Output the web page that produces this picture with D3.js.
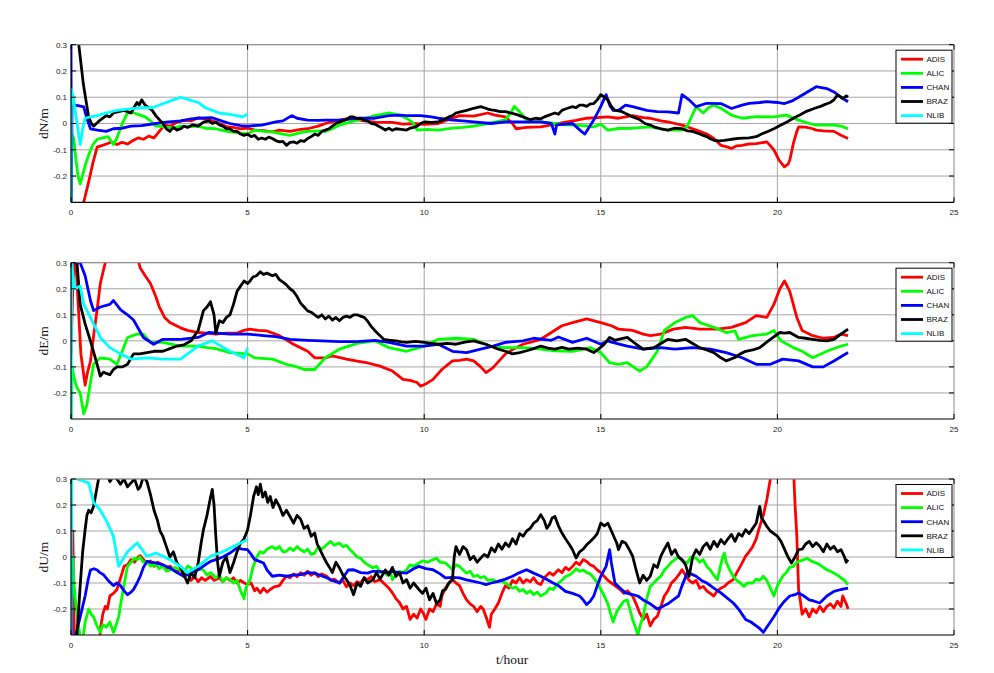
<!DOCTYPE html>
<html>
<head>
<meta charset="utf-8">
<script src="https://cdn.jsdelivr.net/npm/d3@7"></script>
<style>
  html, body { margin: 0; padding: 0; background: #fff; }
  svg { display: block; }
</style>
</head>
<body>
<svg id="chart" width="994" height="673"></svg>
<script>
// Station names and colours (legend order = drawing order)
const stations = ["ADIS", "ALIC", "CHAN", "BRAZ", "NLIB"];
const stationColors = ["#ff0000", "#00ff00", "#0000ff", "#000000", "#00ffff"];

// Axis ticks
const xTicks = [0, 5, 10, 15, 20, 25];
const yTicks = [-0.2, -0.1, 0, 0.1, 0.2, 0.3];
const yTickLabels = ["-0.2", "-0.1", "0", "0.1", "0.2", "0.3"];
const panelTitles = ["dN/m", "dE/m", "dU/m"];

// ---- North component: [t (hour), error (m)] ----
const dN_ADIS = [[0,-0.4],[0.3,-0.35],[0.36,-0.3],[0.45,-0.25],[0.53,-0.205],[0.62,-0.15],[0.74,-0.09],[0.85,-0.085],[1.0,-0.078],[1.15,-0.07],[1.3,-0.08],[1.45,-0.072],[1.6,-0.078],[1.75,-0.065],[1.9,-0.055],[2.05,-0.06],[2.2,-0.048],[2.35,-0.055],[2.5,-0.03],[2.65,-0.005],[2.8,-0.01],[3.0,0.005],[3.2,0.012],[3.4,0.01],[3.6,0.022],[3.8,0.018],[4.0,0.01],[4.2,0.0],[4.4,-0.012],[4.6,-0.015],[4.8,-0.02],[5.0,-0.018],[5.2,-0.025],[5.45,-0.027],[5.7,-0.032],[5.9,-0.025],[6.2,-0.03],[6.5,-0.022],[6.7,-0.02],[7.0,-0.01],[7.2,0.0],[7.5,0.01],[7.9,0.02],[8.2,0.012],[8.6,0.005],[9.1,0.004],[9.4,-0.002],[9.7,0.0],[10.0,-0.003],[10.4,0.0],[10.7,0.015],[11.0,0.03],[11.4,0.028],[11.8,0.04],[12.0,0.032],[12.3,0.025],[12.5,0.0],[12.6,-0.02],[12.9,-0.015],[13.3,-0.013],[13.6,-0.005],[14.0,0.005],[14.3,0.012],[14.6,0.02],[14.9,0.022],[15.2,0.025],[15.5,0.02],[15.9,0.03],[16.2,0.022],[16.4,0.02],[16.7,0.01],[16.9,0.006],[17.1,0.0],[17.3,-0.006],[17.5,-0.015],[17.8,-0.03],[18.0,-0.04],[18.2,-0.057],[18.4,-0.083],[18.6,-0.09],[18.7,-0.095],[18.85,-0.085],[19.0,-0.083],[19.2,-0.078],[19.4,-0.077],[19.7,-0.07],[19.9,-0.1],[20.05,-0.14],[20.2,-0.165],[20.3,-0.155],[20.35,-0.14],[20.45,-0.077],[20.55,-0.03],[20.6,-0.013],[20.8,-0.014],[21.0,-0.02],[21.1,-0.025],[21.3,-0.028],[21.6,-0.03],[21.8,-0.045],[22.0,-0.057]];
const dN_ALIC = [[0,-0.03],[0.08,-0.06],[0.15,-0.15],[0.2,-0.2],[0.26,-0.23],[0.32,-0.2],[0.4,-0.16],[0.5,-0.12],[0.62,-0.08],[0.74,-0.06],[0.9,-0.055],[1.05,-0.05],[1.2,-0.08],[1.3,-0.055],[1.45,0.0],[1.6,0.04],[1.75,0.042],[1.9,0.035],[2.1,0.025],[2.25,0.01],[2.4,-0.01],[2.6,-0.012],[2.9,-0.018],[3.1,-0.01],[3.4,-0.012],[3.6,-0.01],[3.8,-0.018],[4.1,-0.02],[4.4,-0.03],[4.7,-0.035],[5.0,-0.04],[5.2,-0.025],[5.45,-0.03],[5.7,-0.032],[6.0,-0.04],[6.2,-0.045],[6.5,-0.035],[6.7,-0.03],[7.0,-0.028],[7.2,-0.03],[7.4,-0.02],[7.6,-0.006],[7.9,0.005],[8.1,0.013],[8.4,0.022],[8.6,0.03],[8.8,0.035],[9.0,0.04],[9.3,0.032],[9.5,0.02],[9.7,0.0],[9.8,-0.025],[10.1,-0.022],[10.4,-0.025],[10.8,-0.018],[11.1,-0.015],[11.4,-0.01],[11.8,0.0],[12.1,0.008],[12.3,0.015],[12.45,0.04],[12.55,0.065],[12.7,0.045],[12.85,0.02],[13.0,0.008],[13.3,0.006],[13.7,0.0],[14.0,-0.005],[14.2,-0.006],[14.5,-0.008],[14.8,-0.013],[15.0,-0.003],[15.2,-0.025],[15.5,-0.019],[15.9,-0.018],[16.4,-0.013],[16.9,-0.025],[17.3,-0.025],[17.45,-0.01],[17.55,0.02],[17.7,0.064],[17.9,0.04],[18.05,0.06],[18.2,0.07],[18.4,0.058],[18.7,0.032],[19.0,0.02],[19.4,0.026],[19.9,0.025],[20.25,0.032],[20.6,0.013],[20.9,0.0],[21.1,-0.006],[21.4,-0.005],[21.6,-0.006],[21.8,-0.01],[22.0,-0.02]];
const dN_CHAN = [[0,0.35],[0.01,-0.35],[0.03,0.1],[0.08,0.07],[0.2,0.068],[0.36,0.063],[0.45,0.02],[0.55,-0.02],[0.75,-0.025],[1.0,-0.03],[1.2,-0.02],[1.45,-0.018],[1.7,-0.01],[2.0,-0.008],[2.4,0.0],[2.7,0.005],[3.1,0.01],[3.4,0.018],[3.6,0.02],[4.0,0.022],[4.3,0.008],[4.5,0.0],[4.8,-0.008],[5.0,-0.01],[5.4,-0.006],[5.8,0.006],[6.0,0.01],[6.25,0.03],[6.4,0.02],[6.7,0.013],[7.0,0.012],[7.2,0.013],[7.6,0.013],[8.1,0.02],[8.6,0.02],[9.0,0.03],[9.3,0.032],[9.5,0.03],[9.9,0.03],[10.2,0.025],[10.4,0.02],[10.8,0.013],[11.1,0.01],[11.4,0.006],[11.9,0.0],[12.3,0.006],[12.8,0.006],[13.3,0.006],[13.6,0.0],[13.7,-0.04],[13.75,-0.005],[14.2,0.0],[14.45,-0.03],[14.55,-0.04],[14.8,0.013],[15.0,0.065],[15.15,0.11],[15.25,0.07],[15.35,0.05],[15.5,0.05],[15.7,0.07],[15.9,0.064],[16.3,0.05],[16.6,0.045],[16.9,0.044],[17.2,0.04],[17.3,0.11],[17.5,0.09],[17.7,0.064],[18.0,0.077],[18.4,0.076],[18.7,0.057],[19.0,0.07],[19.2,0.077],[19.5,0.08],[19.7,0.083],[20.0,0.08],[20.2,0.076],[20.4,0.085],[20.6,0.1],[20.85,0.12],[21.1,0.14],[21.4,0.133],[21.6,0.12],[21.8,0.1],[22.0,0.083]];
const dN_BRAZ = [[0.0,0.4],[0.22,0.3],[0.35,0.15],[0.5,0.024],[0.58,0.0],[0.64,-0.01],[0.72,0.0],[0.8,0.01],[0.9,0.02],[1.0,0.03],[1.1,0.025],[1.2,0.04],[1.35,0.045],[1.5,0.05],[1.6,0.045],[1.7,0.04],[1.78,0.06],[1.87,0.08],[1.93,0.07],[2.0,0.09],[2.05,0.08],[2.1,0.07],[2.2,0.06],[2.3,0.05],[2.4,0.03],[2.5,0.015],[2.6,0.0],[2.7,-0.02],[2.8,-0.03],[2.9,-0.015],[3.0,-0.025],[3.1,-0.02],[3.2,-0.01],[3.3,-0.015],[3.45,-0.005],[3.6,-0.01],[3.75,0.005],[3.9,0.01],[4.0,0.0],[4.1,0.005],[4.2,-0.005],[4.3,-0.01],[4.4,-0.02],[4.5,-0.02],[4.6,-0.03],[4.7,-0.03],[4.8,-0.04],[4.9,-0.045],[5.0,-0.04],[5.1,-0.05],[5.2,-0.045],[5.3,-0.06],[5.4,-0.055],[5.5,-0.06],[5.6,-0.052],[5.7,-0.057],[5.8,-0.065],[5.9,-0.07],[6.0,-0.068],[6.1,-0.083],[6.2,-0.072],[6.3,-0.07],[6.4,-0.075],[6.5,-0.065],[6.6,-0.068],[6.7,-0.057],[6.8,-0.05],[6.9,-0.04],[7.0,-0.045],[7.1,-0.03],[7.2,-0.025],[7.3,-0.02],[7.4,-0.01],[7.5,0.0],[7.6,0.006],[7.7,0.01],[7.8,0.015],[7.9,0.025],[8.0,0.025],[8.1,0.018],[8.2,0.02],[8.3,0.012],[8.4,0.01],[8.5,0.0],[8.6,-0.002],[8.75,-0.013],[8.9,-0.025],[9.0,-0.018],[9.1,-0.026],[9.2,-0.02],[9.35,-0.022],[9.5,-0.025],[9.6,-0.018],[9.7,-0.015],[9.8,-0.01],[9.9,0.0],[10.0,0.006],[10.2,0.004],[10.4,0.006],[10.55,0.015],[10.7,0.025],[10.8,0.03],[10.9,0.04],[11.05,0.045],[11.2,0.05],[11.4,0.058],[11.6,0.064],[11.7,0.06],[11.8,0.055],[11.9,0.052],[12.0,0.05],[12.15,0.045],[12.3,0.045],[12.45,0.04],[12.6,0.035],[12.7,0.03],[12.8,0.025],[12.9,0.02],[13.0,0.015],[13.15,0.02],[13.3,0.018],[13.4,0.025],[13.5,0.03],[13.6,0.035],[13.7,0.04],[13.8,0.035],[13.9,0.05],[14.0,0.055],[14.1,0.06],[14.2,0.064],[14.3,0.06],[14.4,0.07],[14.5,0.07],[14.6,0.065],[14.7,0.075],[14.8,0.076],[14.9,0.09],[15.0,0.11],[15.1,0.1],[15.2,0.09],[15.3,0.065],[15.4,0.05],[15.5,0.048],[15.6,0.045],[15.75,0.035],[15.9,0.025],[16.0,0.02],[16.1,0.015],[16.25,0.0],[16.4,-0.006],[16.55,-0.015],[16.7,-0.02],[16.9,-0.025],[17.1,-0.018],[17.3,-0.02],[17.45,-0.028],[17.6,-0.03],[17.7,-0.035],[17.8,-0.04],[17.9,-0.045],[18.0,-0.05],[18.1,-0.058],[18.2,-0.064],[18.35,-0.066],[18.5,-0.064],[18.7,-0.06],[18.9,-0.057],[19.05,-0.056],[19.2,-0.055],[19.4,-0.05],[19.55,-0.04],[19.7,-0.032],[19.9,-0.02],[20.1,-0.006],[20.3,0.008],[20.45,0.02],[20.6,0.03],[20.8,0.045],[20.9,0.05],[21.0,0.055],[21.1,0.06],[21.2,0.064],[21.3,0.07],[21.4,0.075],[21.5,0.08],[21.6,0.09],[21.7,0.108],[21.8,0.1],[21.85,0.095],[21.95,0.105],[22.0,0.1]];
const dN_NLIB = [[0,-0.35],[0.01,0.13],[0.06,0.1],[0.15,0.02],[0.26,-0.08],[0.33,-0.02],[0.4,0.02],[0.55,0.025],[0.74,0.03],[1.0,0.04],[1.3,0.05],[1.6,0.055],[2.0,0.06],[2.3,0.06],[2.6,0.075],[2.9,0.09],[3.1,0.1],[3.35,0.09],[3.6,0.08],[3.8,0.06],[4.0,0.05],[4.2,0.04],[4.5,0.035],[4.7,0.03],[4.85,0.025],[5.0,0.035]];

// ---- East component ----
const dE_ADIS = [[0,-0.05],[0.05,0.2],[0.12,0.35],[0.2,0.15],[0.28,-0.05],[0.4,-0.17],[0.47,-0.12],[0.55,-0.08],[0.65,0.03],[0.74,0.12],[0.83,0.22],[0.97,0.3],[1.1,0.36],[1.8,0.36],[1.96,0.28],[2.1,0.25],[2.25,0.22],[2.4,0.17],[2.5,0.13],[2.65,0.09],[2.8,0.07],[3.1,0.05],[3.3,0.04],[3.6,0.032],[3.85,0.03],[4.1,0.026],[4.4,0.03],[4.7,0.03],[4.9,0.04],[5.07,0.045],[5.3,0.04],[5.55,0.038],[5.9,0.02],[6.3,-0.013],[6.7,-0.04],[6.9,-0.065],[7.2,-0.065],[7.4,-0.058],[7.8,-0.07],[8.1,-0.078],[8.4,-0.085],[8.75,-0.097],[9.1,-0.116],[9.4,-0.148],[9.6,-0.152],[9.8,-0.16],[9.9,-0.174],[10.05,-0.165],[10.25,-0.148],[10.5,-0.11],[10.8,-0.077],[11.0,-0.075],[11.2,-0.07],[11.4,-0.077],[11.6,-0.1],[11.75,-0.122],[11.95,-0.103],[12.3,-0.05],[12.55,-0.03],[12.8,-0.013],[13.3,0.006],[13.6,0.032],[13.9,0.058],[14.2,0.07],[14.6,0.084],[15.0,0.07],[15.3,0.058],[15.5,0.045],[15.9,0.04],[16.2,0.026],[16.4,0.02],[16.7,0.026],[17.05,0.045],[17.4,0.052],[17.8,0.045],[18.3,0.045],[18.7,0.052],[19.1,0.07],[19.4,0.097],[19.7,0.09],[19.9,0.14],[20.07,0.2],[20.2,0.23],[20.35,0.19],[20.55,0.09],[20.7,0.04],[21.0,0.02],[21.3,0.01],[21.6,0.013],[21.8,0.026],[22.0,0.02]];
const dE_ALIC = [[0,-0.35],[0.03,-0.1],[0.1,-0.15],[0.17,-0.18],[0.26,-0.2],[0.36,-0.28],[0.45,-0.245],[0.55,-0.16],[0.64,-0.09],[0.83,-0.065],[1.1,-0.07],[1.3,-0.09],[1.45,-0.04],[1.6,0.013],[1.87,0.026],[2.05,0.026],[2.25,-0.006],[2.6,-0.006],[3.1,-0.02],[3.6,-0.02],[3.85,-0.026],[4.1,-0.03],[4.5,-0.045],[5.0,-0.05],[5.2,-0.065],[5.7,-0.07],[6.1,-0.09],[6.4,-0.1],[6.6,-0.11],[6.9,-0.11],[7.2,-0.065],[7.6,-0.032],[8.1,-0.01],[8.6,0.0],[9.0,-0.026],[9.5,-0.04],[10.0,-0.02],[10.4,0.006],[10.9,0.01],[11.4,0.006],[11.85,-0.02],[12.3,-0.026],[12.8,-0.026],[13.3,-0.032],[13.7,-0.038],[14.2,-0.04],[14.7,-0.026],[15.0,-0.045],[15.25,-0.084],[15.5,-0.09],[15.75,-0.084],[16.1,-0.116],[16.3,-0.1],[16.6,-0.04],[16.8,0.04],[17.1,0.07],[17.4,0.09],[17.6,0.097],[17.8,0.07],[18.2,0.052],[18.55,0.032],[18.8,0.038],[18.9,0.006],[19.3,0.02],[19.7,0.026],[19.9,0.04],[20.1,0.0],[20.45,-0.026],[20.7,-0.04],[21.0,-0.065],[21.4,-0.04],[21.8,-0.02],[22.0,-0.013]];
const dE_CHAN = [[0,0.35],[0.08,0.3],[0.26,0.3],[0.4,0.25],[0.55,0.155],[0.64,0.116],[0.83,0.13],[1.1,0.14],[1.2,0.155],[1.4,0.12],[1.6,0.1],[1.77,0.08],[2.05,0.013],[2.34,-0.013],[2.6,0.006],[3.1,0.006],[3.6,0.013],[3.9,0.032],[4.5,0.026],[5.0,0.026],[5.45,0.02],[5.8,0.016],[6.2,0.006],[6.7,0.002],[7.1,0.0],[7.6,-0.003],[8.1,-0.003],[8.6,0.002],[9.0,-0.006],[9.5,-0.02],[10.0,-0.02],[10.4,-0.013],[10.8,-0.04],[11.2,-0.045],[11.6,-0.032],[11.95,-0.02],[12.3,-0.006],[12.8,0.0],[13.1,0.01],[13.6,0.002],[13.8,0.015],[14.2,-0.006],[14.6,0.01],[15.0,-0.013],[15.2,0.0],[15.3,-0.005],[15.75,-0.02],[16.2,-0.032],[16.7,-0.026],[17.1,-0.032],[17.6,-0.026],[18.1,-0.032],[18.55,-0.045],[19.0,-0.065],[19.4,-0.09],[19.8,-0.09],[20.15,-0.07],[20.6,-0.077],[21.0,-0.1],[21.3,-0.1],[21.6,-0.077],[22.0,-0.045]];
const dE_BRAZ = [[0,0.35],[0.17,0.3],[0.26,0.14],[0.4,0.065],[0.55,0.0],[0.74,-0.09],[0.83,-0.135],[0.92,-0.12],[1.0,-0.125],[1.1,-0.13],[1.2,-0.11],[1.3,-0.1],[1.45,-0.1],[1.6,-0.09],[1.77,-0.05],[1.95,-0.05],[2.15,-0.045],[2.35,-0.04],[2.6,-0.04],[2.8,-0.03],[3.0,-0.02],[3.2,-0.015],[3.4,0.0],[3.5,0.02],[3.6,0.04],[3.75,0.116],[3.85,0.13],[3.95,0.15],[4.05,0.1],[4.1,0.03],[4.2,0.077],[4.3,0.07],[4.4,0.09],[4.5,0.1],[4.6,0.14],[4.7,0.19],[4.8,0.21],[4.9,0.23],[5.0,0.22],[5.07,0.23],[5.15,0.245],[5.25,0.25],[5.36,0.265],[5.45,0.255],[5.55,0.26],[5.7,0.25],[5.8,0.255],[5.9,0.235],[6.0,0.225],[6.1,0.215],[6.2,0.2],[6.3,0.19],[6.4,0.17],[6.5,0.145],[6.6,0.13],[6.7,0.115],[6.8,0.11],[6.9,0.1],[7.0,0.09],[7.1,0.1],[7.2,0.084],[7.3,0.095],[7.4,0.08],[7.5,0.09],[7.6,0.077],[7.7,0.09],[7.8,0.095],[7.9,0.09],[8.0,0.1],[8.1,0.1],[8.2,0.095],[8.3,0.09],[8.4,0.075],[8.5,0.055],[8.6,0.04],[8.75,0.02],[8.85,0.006],[9.0,0.003],[9.2,0.0],[9.35,-0.004],[9.5,-0.006],[9.75,-0.002],[10.0,-0.006],[10.2,-0.01],[10.4,-0.013],[10.65,-0.01],[10.9,-0.013],[11.15,-0.005],[11.4,0.0],[11.6,-0.008],[11.75,-0.013],[12.1,-0.032],[12.3,-0.04],[12.5,-0.05],[12.7,-0.045],[12.9,-0.038],[13.1,-0.03],[13.3,-0.02],[13.5,-0.028],[13.7,-0.032],[13.9,-0.025],[14.1,-0.032],[14.35,-0.028],[14.6,-0.032],[14.8,-0.045],[14.95,-0.03],[15.1,-0.013],[15.25,0.013],[15.4,0.002],[15.5,0.006],[15.75,0.013],[16.0,-0.013],[16.2,-0.032],[16.5,-0.026],[16.7,-0.01],[16.9,0.006],[17.15,0.0],[17.4,0.006],[17.6,-0.01],[17.8,-0.026],[18.0,-0.035],[18.2,-0.045],[18.4,-0.065],[18.55,-0.077],[18.8,-0.064],[18.95,-0.05],[19.1,-0.04],[19.3,-0.035],[19.5,-0.026],[19.65,-0.01],[19.8,0.006],[20.07,0.032],[20.2,0.03],[20.35,0.032],[20.6,0.013],[20.8,0.01],[21.0,0.006],[21.2,0.002],[21.4,0.0],[21.6,0.006],[21.8,0.026],[22.0,0.045]];
const dE_NLIB = [[0,-0.35],[0.02,0.3],[0.1,0.2],[0.26,0.21],[0.36,0.14],[0.55,0.09],[0.83,0.013],[1.1,-0.026],[1.4,-0.05],[1.7,-0.07],[2.15,-0.065],[2.6,-0.07],[3.1,-0.07],[3.6,-0.02],[4.0,0.0],[4.5,-0.04],[4.9,-0.065],[5.0,-0.026]];

// ---- Up component ----
const dU_ADIS = [[0,-0.35],[0.05,0.1],[0.1,-0.35],[0.8,-0.35],[0.83,-0.28],[0.9,-0.22],[0.97,-0.19],[1.03,-0.2],[1.1,-0.15],[1.2,-0.14],[1.3,-0.125],[1.38,-0.09],[1.45,-0.06],[1.5,-0.036],[1.6,-0.03],[1.7,-0.01],[1.8,-0.02],[1.9,0.0],[1.96,0.005],[2.05,-0.01],[2.15,-0.023],[2.25,-0.015],[2.35,-0.036],[2.45,-0.02],[2.6,-0.03],[2.7,-0.045],[2.8,-0.035],[2.95,-0.055],[3.1,-0.05],[3.2,-0.07],[3.3,-0.06],[3.4,-0.09],[3.5,-0.075],[3.6,-0.095],[3.7,-0.08],[3.8,-0.09],[3.95,-0.075],[4.05,-0.09],[4.2,-0.08],[4.3,-0.095],[4.4,-0.08],[4.5,-0.09],[4.6,-0.08],[4.7,-0.1],[4.8,-0.09],[4.9,-0.1],[5.0,-0.106],[5.1,-0.1],[5.2,-0.13],[5.26,-0.12],[5.36,-0.138],[5.45,-0.12],[5.55,-0.135],[5.64,-0.125],[5.75,-0.115],[5.9,-0.11],[6.0,-0.09],[6.1,-0.074],[6.2,-0.08],[6.3,-0.065],[6.4,-0.075],[6.5,-0.06],[6.6,-0.07],[6.7,-0.055],[6.8,-0.07],[6.9,-0.06],[7.0,-0.075],[7.1,-0.065],[7.24,-0.074],[7.35,-0.09],[7.45,-0.085],[7.6,-0.1],[7.7,-0.09],[7.8,-0.115],[7.9,-0.1],[8.0,-0.11],[8.1,-0.095],[8.2,-0.1],[8.3,-0.08],[8.4,-0.087],[8.5,-0.075],[8.6,-0.095],[8.75,-0.087],[8.85,-0.1],[9.0,-0.12],[9.1,-0.138],[9.2,-0.16],[9.3,-0.175],[9.4,-0.2],[9.5,-0.19],[9.6,-0.24],[9.7,-0.22],[9.8,-0.235],[9.9,-0.2],[9.97,-0.215],[10.05,-0.24],[10.15,-0.2],[10.25,-0.21],[10.35,-0.18],[10.45,-0.19],[10.5,-0.15],[10.6,-0.12],[10.7,-0.1],[10.8,-0.087],[10.9,-0.1],[11.0,-0.11],[11.1,-0.14],[11.2,-0.165],[11.3,-0.18],[11.4,-0.19],[11.5,-0.21],[11.6,-0.19],[11.67,-0.2],[11.75,-0.23],[11.85,-0.27],[11.9,-0.22],[12.0,-0.2],[12.1,-0.177],[12.2,-0.14],[12.3,-0.11],[12.4,-0.12],[12.5,-0.09],[12.6,-0.1],[12.7,-0.08],[12.8,-0.1],[12.9,-0.087],[13.0,-0.095],[13.1,-0.08],[13.2,-0.1],[13.3,-0.106],[13.4,-0.08],[13.55,-0.06],[13.65,-0.07],[13.8,-0.049],[13.9,-0.06],[14.0,-0.04],[14.1,-0.05],[14.2,-0.036],[14.3,-0.02],[14.4,-0.03],[14.5,-0.01],[14.6,-0.017],[14.7,-0.03],[14.8,-0.036],[14.9,-0.05],[15.0,-0.06],[15.1,-0.075],[15.2,-0.09],[15.3,-0.1],[15.4,-0.11],[15.55,-0.125],[15.65,-0.14],[15.75,-0.13],[15.9,-0.15],[16.0,-0.18],[16.1,-0.215],[16.2,-0.24],[16.3,-0.22],[16.4,-0.265],[16.5,-0.24],[16.6,-0.228],[16.7,-0.19],[16.8,-0.15],[16.9,-0.13],[17.0,-0.1],[17.1,-0.087],[17.2,-0.07],[17.3,-0.049],[17.4,-0.07],[17.5,-0.09],[17.6,-0.1],[17.7,-0.09],[17.8,-0.12],[17.9,-0.113],[18.0,-0.13],[18.1,-0.14],[18.2,-0.15],[18.3,-0.13],[18.4,-0.12],[18.5,-0.113],[18.6,-0.1],[18.75,-0.087],[18.85,-0.06],[18.95,-0.036],[19.05,-0.01],[19.1,0.003],[19.2,0.02],[19.3,0.04],[19.4,0.07],[19.5,0.118],[19.6,0.16],[19.7,0.22],[19.8,0.3],[19.9,0.36],[20.45,0.36],[20.5,0.2],[20.55,0.08],[20.6,-0.125],[20.65,-0.17],[20.7,-0.22],[20.8,-0.2],[20.9,-0.23],[21.0,-0.2],[21.1,-0.215],[21.2,-0.19],[21.3,-0.21],[21.4,-0.19],[21.5,-0.18],[21.6,-0.196],[21.7,-0.17],[21.8,-0.19],[21.85,-0.15],[21.95,-0.18],[22.0,-0.2]];
const dU_ALIC = [[0,-0.35],[0.05,0.0],[0.08,-0.1],[0.15,-0.2],[0.3,-0.35],[0.4,-0.25],[0.5,-0.2],[0.57,-0.22],[0.64,-0.23],[0.72,-0.26],[0.83,-0.29],[0.9,-0.26],[1.0,-0.27],[1.1,-0.25],[1.2,-0.29],[1.28,-0.26],[1.35,-0.23],[1.42,-0.17],[1.5,-0.11],[1.55,-0.07],[1.6,-0.036],[1.7,-0.02],[1.8,-0.005],[1.87,-0.01],[1.95,0.0],[2.05,-0.02],[2.15,-0.017],[2.25,-0.035],[2.4,-0.03],[2.5,-0.045],[2.6,-0.035],[2.7,-0.055],[2.8,-0.05],[2.95,-0.04],[3.1,-0.05],[3.2,-0.06],[3.3,-0.035],[3.4,-0.042],[3.5,-0.06],[3.6,-0.045],[3.75,-0.05],[3.85,-0.07],[3.95,-0.06],[4.1,-0.08],[4.2,-0.07],[4.3,-0.095],[4.4,-0.08],[4.5,-0.087],[4.6,-0.1],[4.7,-0.09],[4.8,-0.13],[4.9,-0.16],[4.95,-0.12],[5.07,-0.087],[5.15,-0.04],[5.26,0.0],[5.35,0.02],[5.45,0.015],[5.55,0.03],[5.7,0.04],[5.8,0.03],[5.9,0.04],[6.0,0.02],[6.1,0.022],[6.2,0.035],[6.3,0.025],[6.4,0.04],[6.5,0.028],[6.6,0.02],[6.7,0.03],[6.8,0.01],[6.9,0.015],[7.0,0.04],[7.1,0.03],[7.24,0.047],[7.35,0.06],[7.45,0.045],[7.6,0.054],[7.7,0.04],[7.8,0.045],[7.9,0.028],[8.0,0.015],[8.1,0.0],[8.2,-0.004],[8.3,-0.02],[8.4,-0.03],[8.55,-0.042],[8.65,-0.035],[8.75,-0.06],[8.85,-0.055],[8.95,-0.07],[9.05,-0.06],[9.1,-0.087],[9.2,-0.07],[9.3,-0.055],[9.4,-0.06],[9.5,-0.049],[9.6,-0.03],[9.7,-0.035],[9.85,-0.023],[9.95,-0.015],[10.1,-0.02],[10.25,-0.01],[10.35,-0.005],[10.45,-0.02],[10.6,-0.023],[10.7,-0.035],[10.8,-0.049],[10.9,-0.03],[11.0,-0.036],[11.1,-0.05],[11.2,-0.062],[11.3,-0.055],[11.4,-0.075],[11.5,-0.07],[11.6,-0.08],[11.7,-0.075],[11.8,-0.09],[11.95,-0.087],[12.05,-0.095],[12.15,-0.09],[12.3,-0.1],[12.4,-0.11],[12.5,-0.12],[12.6,-0.115],[12.7,-0.132],[12.8,-0.125],[12.9,-0.14],[13.0,-0.13],[13.1,-0.145],[13.2,-0.135],[13.3,-0.15],[13.45,-0.138],[13.55,-0.12],[13.65,-0.125],[13.8,-0.1],[13.9,-0.09],[14.0,-0.075],[14.1,-0.07],[14.2,-0.06],[14.3,-0.045],[14.4,-0.055],[14.5,-0.05],[14.6,-0.06],[14.7,-0.065],[14.8,-0.08],[14.9,-0.1],[15.0,-0.125],[15.1,-0.15],[15.2,-0.18],[15.28,-0.22],[15.35,-0.25],[15.45,-0.21],[15.55,-0.19],[15.65,-0.17],[15.75,-0.165],[15.82,-0.2],[15.9,-0.24],[15.98,-0.27],[16.05,-0.3],[16.12,-0.26],[16.2,-0.228],[16.3,-0.16],[16.4,-0.113],[16.5,-0.1],[16.6,-0.085],[16.7,-0.074],[16.8,-0.05],[16.9,-0.036],[17.0,-0.02],[17.1,-0.01],[17.2,0.003],[17.3,-0.015],[17.45,-0.023],[17.55,0.0],[17.7,-0.004],[17.8,-0.02],[17.9,-0.01],[18.0,-0.036],[18.1,-0.05],[18.2,-0.07],[18.3,-0.087],[18.38,-0.04],[18.45,0.0],[18.5,0.015],[18.55,-0.02],[18.65,-0.05],[18.75,-0.074],[18.85,-0.09],[18.95,-0.1],[19.05,-0.113],[19.15,-0.1],[19.3,-0.1],[19.4,-0.085],[19.5,-0.09],[19.6,-0.074],[19.7,-0.09],[19.8,-0.12],[19.9,-0.15],[20.0,-0.11],[20.15,-0.074],[20.25,-0.06],[20.35,-0.04],[20.45,-0.036],[20.55,-0.02],[20.65,-0.015],[20.75,-0.01],[20.85,-0.005],[20.95,-0.015],[21.1,-0.023],[21.2,-0.03],[21.3,-0.04],[21.4,-0.049],[21.5,-0.055],[21.6,-0.062],[21.7,-0.07],[21.8,-0.08],[21.9,-0.09],[22.0,-0.106]];
const dU_CHAN = [[0,0.35],[0.02,-0.35],[0.17,-0.28],[0.26,-0.23],[0.4,-0.15],[0.48,-0.09],[0.55,-0.05],[0.65,-0.045],[0.74,-0.05],[0.82,-0.06],[0.92,-0.068],[1.05,-0.09],[1.2,-0.11],[1.3,-0.1],[1.4,-0.11],[1.5,-0.13],[1.6,-0.145],[1.7,-0.135],[1.77,-0.125],[1.87,-0.1],[1.96,-0.074],[2.05,-0.04],[2.15,-0.017],[2.25,-0.02],[2.4,-0.023],[2.6,-0.03],[2.8,-0.042],[3.0,-0.06],[3.2,-0.075],[3.4,-0.06],[3.6,-0.049],[3.8,-0.03],[3.95,-0.017],[4.1,-0.01],[4.3,0.0],[4.5,0.015],[4.7,0.035],[4.85,0.03],[5.0,0.028],[5.1,0.01],[5.2,-0.01],[5.3,-0.015],[5.45,-0.023],[5.55,-0.05],[5.7,-0.074],[5.9,-0.07],[6.1,-0.074],[6.3,-0.07],[6.5,-0.068],[6.7,-0.06],[6.9,-0.062],[7.05,-0.07],[7.24,-0.08],[7.4,-0.09],[7.6,-0.1],[7.75,-0.07],[7.85,-0.05],[8.0,-0.049],[8.2,-0.06],[8.4,-0.062],[8.55,-0.055],[8.75,-0.055],[8.9,-0.06],[9.1,-0.055],[9.3,-0.06],[9.5,-0.062],[9.7,-0.045],[9.85,-0.036],[10.05,-0.045],[10.25,-0.049],[10.45,-0.065],[10.6,-0.08],[10.8,-0.078],[11.0,-0.08],[11.2,-0.088],[11.4,-0.094],[11.6,-0.1],[11.75,-0.106],[11.9,-0.1],[12.1,-0.094],[12.3,-0.085],[12.5,-0.074],[12.7,-0.06],[12.9,-0.049],[13.1,-0.062],[13.3,-0.074],[13.45,-0.085],[13.65,-0.1],[13.8,-0.11],[14.0,-0.132],[14.2,-0.14],[14.4,-0.15],[14.5,-0.165],[14.6,-0.183],[14.7,-0.17],[14.8,-0.15],[14.9,-0.11],[15.0,-0.074],[15.15,-0.036],[15.25,0.028],[15.3,-0.023],[15.4,-0.1],[15.55,-0.12],[15.7,-0.138],[15.9,-0.145],[16.05,-0.15],[16.2,-0.165],[16.4,-0.18],[16.6,-0.2],[16.75,-0.19],[16.9,-0.18],[17.05,-0.165],[17.2,-0.15],[17.3,-0.11],[17.45,-0.06],[17.55,-0.065],[17.7,-0.074],[17.85,-0.09],[18.0,-0.1],[18.2,-0.12],[18.4,-0.138],[18.6,-0.16],[18.75,-0.177],[18.9,-0.2],[19.1,-0.24],[19.25,-0.25],[19.4,-0.265],[19.5,-0.275],[19.6,-0.29],[19.7,-0.27],[19.8,-0.25],[19.9,-0.23],[20.05,-0.196],[20.2,-0.17],[20.35,-0.15],[20.5,-0.145],[20.6,-0.138],[20.75,-0.15],[20.9,-0.165],[21.05,-0.17],[21.2,-0.177],[21.4,-0.15],[21.6,-0.132],[21.8,-0.125],[22.0,-0.12]];
const dU_BRAZ = [[0,-0.35],[0.17,-0.3],[0.26,-0.11],[0.33,0.02],[0.4,0.105],[0.45,0.16],[0.5,0.18],[0.57,0.17],[0.64,0.195],[0.7,0.24],[0.78,0.3],[0.85,0.32],[0.92,0.31],[1.0,0.33],[1.1,0.29],[1.2,0.31],[1.3,0.3],[1.4,0.28],[1.5,0.3],[1.6,0.27],[1.7,0.285],[1.8,0.3],[1.9,0.26],[1.96,0.27],[2.05,0.31],[2.15,0.29],[2.25,0.24],[2.35,0.18],[2.45,0.14],[2.52,0.1],[2.6,0.08],[2.7,0.04],[2.8,0.0],[2.9,0.02],[3.0,-0.023],[3.1,-0.04],[3.2,-0.07],[3.3,-0.1],[3.4,-0.06],[3.5,-0.08],[3.6,-0.023],[3.68,0.05],[3.75,0.105],[3.85,0.16],[3.95,0.23],[4.0,0.26],[4.05,0.2],[4.1,0.08],[4.15,-0.02],[4.2,-0.075],[4.3,-0.02],[4.4,0.0],[4.5,-0.06],[4.6,-0.023],[4.7,0.02],[4.8,0.054],[4.9,0.07],[5.0,0.105],[5.08,0.16],[5.17,0.233],[5.25,0.27],[5.3,0.24],[5.36,0.28],[5.43,0.23],[5.5,0.25],[5.57,0.21],[5.64,0.233],[5.72,0.19],[5.8,0.22],[5.9,0.195],[6.0,0.16],[6.1,0.18],[6.2,0.156],[6.3,0.13],[6.4,0.16],[6.5,0.145],[6.6,0.11],[6.7,0.12],[6.8,0.08],[6.9,0.092],[6.97,0.05],[7.05,0.028],[7.15,0.0],[7.24,-0.023],[7.32,-0.04],[7.4,-0.06],[7.5,-0.02],[7.6,-0.042],[7.7,-0.07],[7.8,-0.087],[7.9,-0.11],[8.0,-0.145],[8.1,-0.1],[8.2,-0.113],[8.3,-0.08],[8.4,-0.1],[8.55,-0.087],[8.65,-0.06],[8.75,-0.085],[8.9,-0.05],[9.0,-0.07],[9.1,-0.04],[9.2,-0.074],[9.3,-0.06],[9.4,-0.1],[9.5,-0.087],[9.6,-0.12],[9.7,-0.1],[9.85,-0.125],[9.95,-0.14],[10.05,-0.12],[10.15,-0.165],[10.25,-0.14],[10.35,-0.18],[10.45,-0.165],[10.52,-0.13],[10.6,-0.125],[10.7,-0.1],[10.8,-0.087],[10.85,0.0],[10.9,0.04],[11.0,0.01],[11.1,0.04],[11.2,0.028],[11.3,-0.01],[11.4,0.003],[11.5,-0.02],[11.6,-0.004],[11.7,0.01],[11.8,0.0],[11.9,0.035],[12.0,0.02],[12.1,0.05],[12.2,0.03],[12.3,0.054],[12.4,0.04],[12.5,0.07],[12.6,0.05],[12.7,0.09],[12.8,0.08],[12.9,0.1],[13.0,0.11],[13.1,0.13],[13.2,0.14],[13.3,0.163],[13.4,0.14],[13.47,0.11],[13.55,0.125],[13.62,0.15],[13.7,0.156],[13.8,0.12],[13.9,0.092],[14.0,0.07],[14.1,0.05],[14.2,0.028],[14.3,-0.004],[14.4,0.02],[14.5,0.03],[14.6,0.047],[14.7,0.06],[14.8,0.073],[14.9,0.09],[15.0,0.13],[15.1,0.12],[15.2,0.13],[15.3,0.1],[15.45,0.054],[15.5,0.028],[15.6,0.06],[15.7,0.054],[15.8,0.03],[15.9,0.003],[16.0,-0.05],[16.1,-0.1],[16.2,-0.07],[16.3,-0.09],[16.4,-0.074],[16.5,-0.03],[16.6,-0.04],[16.7,0.003],[16.8,0.03],[16.9,0.054],[17.0,0.01],[17.1,0.028],[17.2,0.0],[17.3,-0.01],[17.4,-0.03],[17.5,-0.074],[17.6,0.0],[17.7,0.028],[17.8,0.01],[17.9,0.04],[18.0,0.054],[18.1,0.03],[18.2,0.06],[18.3,0.04],[18.4,0.067],[18.5,0.05],[18.6,0.07],[18.7,0.087],[18.8,0.06],[18.9,0.09],[19.0,0.08],[19.1,0.105],[19.2,0.09],[19.3,0.11],[19.4,0.13],[19.5,0.195],[19.55,0.15],[19.6,0.14],[19.7,0.118],[19.8,0.1],[19.9,0.09],[20.0,0.08],[20.1,0.06],[20.2,0.03],[20.25,0.015],[20.3,0.0],[20.4,-0.023],[20.5,0.0],[20.6,0.028],[20.7,0.03],[20.8,0.05],[20.9,0.06],[21.0,0.04],[21.1,0.055],[21.2,0.041],[21.3,0.02],[21.4,0.05],[21.5,0.03],[21.6,0.041],[21.7,0.02],[21.8,0.028],[21.9,0.0],[21.95,-0.02],[22.0,-0.01]];
const dU_NLIB = [[0,-0.35],[0.02,0.35],[0.17,0.3],[0.5,0.285],[0.64,0.21],[0.83,0.18],[1.0,0.14],[1.2,0.08],[1.35,-0.036],[1.6,0.02],[1.87,0.054],[2.15,0.003],[2.4,0.015],[2.8,-0.01],[3.1,-0.036],[3.3,-0.06],[3.6,-0.036],[3.95,0.003],[4.3,0.02],[4.7,0.047],[5.0,0.067]];

const panelSeries = [
  [dN_ADIS, dN_ALIC, dN_CHAN, dN_BRAZ, dN_NLIB],
  [dE_ADIS, dE_ALIC, dE_CHAN, dE_BRAZ, dE_NLIB],
  [dU_ADIS, dU_ALIC, dU_CHAN, dU_BRAZ, dU_NLIB]
];

// ---- Layout ----
const plotLeft = 71, plotRight = 954;
const panels = [
  { top: 44.7, bottom: 202.3 },
  { top: 262.7, bottom: 419 },
  { top: 479, bottom: 635 }
];
const tickLen = 5;

const svg = d3.select("#chart");
const x = d3.scaleLinear().domain([0, 25]).range([plotLeft, plotRight]);

panels.forEach((p, i) => {
  const y = d3.scaleLinear().domain([-0.3, 0.3]).range([p.bottom, p.top]);
  const g = svg.append("g");

  // grid
  g.selectAll(".hgrid").data(yTicks).join("line")
    .attr("x1", plotLeft).attr("x2", plotRight)
    .attr("y1", d => y(d)).attr("y2", d => y(d))
    .attr("stroke", "#a6a6a6").attr("stroke-width", 1);
  g.selectAll(".vgrid").data(xTicks.slice(1, -1)).join("line")
    .attr("x1", d => x(d)).attr("x2", d => x(d))
    .attr("y1", p.top).attr("y2", p.bottom)
    .attr("stroke", "#a6a6a6").attr("stroke-width", 1);

  // data lines, clipped to the axes box
  const clipId = "clip" + i;
  svg.append("clipPath").attr("id", clipId).append("rect")
    .attr("x", plotLeft).attr("y", p.top)
    .attr("width", plotRight - plotLeft).attr("height", p.bottom - p.top);
  const line = d3.line().x(d => x(d[0])).y(d => y(d[1]));
  const lg = g.append("g").attr("clip-path", `url(#${clipId})`);
  panelSeries[i].forEach((series, k) => {
    lg.append("path").datum(series)
      .attr("d", line)
      .attr("fill", "none")
      .attr("stroke", stationColors[k])
      .attr("stroke-width", 2.8)
      .attr("stroke-linejoin", "round");
  });

  // axes box
  g.append("line").attr("x1", plotLeft).attr("x2", plotRight).attr("y1", p.top).attr("y2", p.top)
    .attr("stroke", "#888").attr("stroke-width", 1);
  g.append("line").attr("x1", plotRight).attr("x2", plotRight).attr("y1", p.top).attr("y2", p.bottom)
    .attr("stroke", "#888").attr("stroke-width", 1);
  g.append("line").attr("x1", plotLeft).attr("x2", plotRight).attr("y1", p.bottom).attr("y2", p.bottom)
    .attr("stroke", "#000").attr("stroke-width", 1.2);
  g.append("line").attr("x1", plotLeft).attr("x2", plotLeft).attr("y1", p.top).attr("y2", p.bottom)
    .attr("stroke", "#000").attr("stroke-width", 1.2);

  // inward ticks on all four sides
  g.selectAll(".xtb").data(xTicks).join("line")
    .attr("x1", d => x(d)).attr("x2", d => x(d))
    .attr("y1", p.bottom).attr("y2", p.bottom - tickLen)
    .attr("stroke", "#000");
  g.selectAll(".xtt").data(xTicks).join("line")
    .attr("x1", d => x(d)).attr("x2", d => x(d))
    .attr("y1", p.top).attr("y2", p.top + tickLen)
    .attr("stroke", "#000");
  g.selectAll(".ytl").data(yTicks).join("line")
    .attr("x1", plotLeft).attr("x2", plotLeft + tickLen)
    .attr("y1", d => y(d)).attr("y2", d => y(d))
    .attr("stroke", "#000");
  g.selectAll(".ytr").data(yTicks).join("line")
    .attr("x1", plotRight).attr("x2", plotRight - tickLen)
    .attr("y1", d => y(d)).attr("y2", d => y(d))
    .attr("stroke", "#000");

  // tick labels
  g.selectAll(".ylab").data(yTicks).join("text")
    .attr("x", plotLeft - 4).attr("y", d => y(d))
    .attr("dy", "0.35em").attr("text-anchor", "end")
    .attr("font-family", "Liberation Sans, Arial, sans-serif").attr("font-size", 8)
    .attr("fill", "#222")
    .text((d, j) => yTickLabels[j]);
  g.selectAll(".xlab").data(xTicks).join("text")
    .attr("x", d => x(d)).attr("y", p.bottom + 13)
    .attr("text-anchor", "middle")
    .attr("font-family", "Liberation Sans, Arial, sans-serif").attr("font-size", 8)
    .attr("fill", "#222")
    .text(d => d);

  // y axis title
  g.append("text")
    .attr("transform", `translate(48,${y(0)}) rotate(-90)`)
    .attr("text-anchor", "middle")
    .attr("font-family", "Liberation Serif, Times New Roman, serif").attr("font-size", 13.5)
    .attr("fill", "#111")
    .text(panelTitles[i]);

  // legend
  const lx = 896, lw = 56, ly = p.top + 5.5, lh = 73, step = 14.1;
  const leg = g.append("g");
  leg.append("rect").attr("x", lx).attr("y", ly).attr("width", lw).attr("height", lh)
    .attr("fill", "#fff").attr("stroke", "#000").attr("stroke-width", 1);
  stations.forEach((s, k) => {
    const cy = ly + 9 + k * step;
    leg.append("line").attr("x1", lx + 5).attr("x2", lx + 27).attr("y1", cy).attr("y2", cy)
      .attr("stroke", stationColors[k]).attr("stroke-width", 2.8);
    leg.append("text").attr("x", lx + 30.5).attr("y", cy).attr("dy", "0.35em")
      .attr("font-family", "Liberation Sans, Arial, sans-serif").attr("font-size", 8)
      .attr("fill", "#111")
      .text(s);
  });
});

// x axis title
svg.append("text")
  .attr("x", 512).attr("y", 664)
  .attr("text-anchor", "middle")
  .attr("font-family", "Liberation Serif, Times New Roman, serif").attr("font-size", 13.5)
  .attr("fill", "#111")
  .text("t/hour");
</script>
</body>
</html>
